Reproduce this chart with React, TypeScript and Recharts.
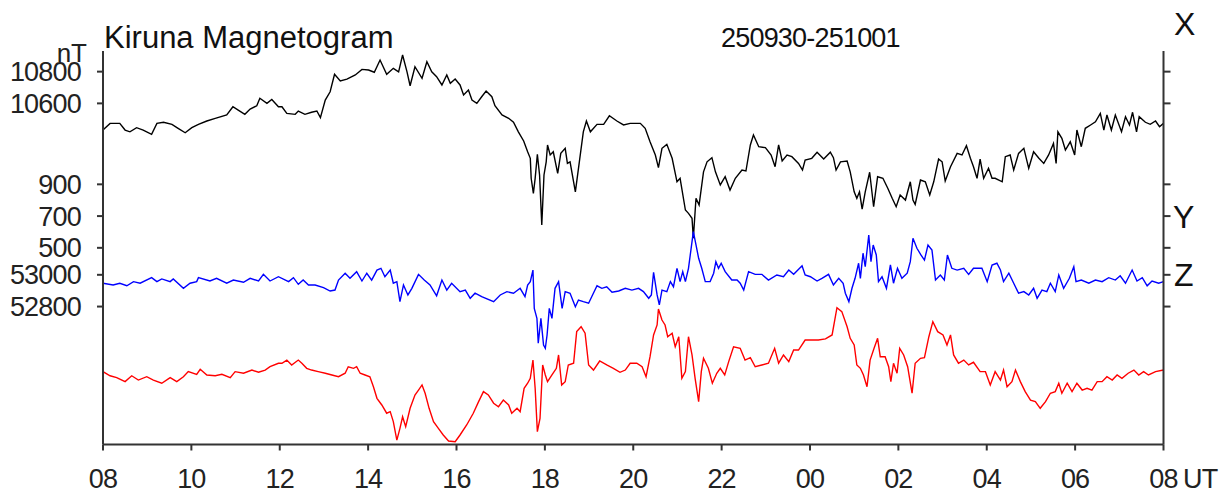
import React from 'react';
import { LineChart, Line, XAxis, YAxis } from 'recharts';

// time in hours since 08 UT, values in nT
const xTimes = [0.0,0.16,0.38,0.5,0.61,0.76,0.91,1.1,1.22,1.37,1.56,1.7,1.86,2.01,2.16,2.35,2.54,2.8,2.94,3.06,3.21,3.33,3.48,3.55,3.71,3.82,3.97,4.05,4.16,4.35,4.42,4.57,4.72,4.84,4.92,5.03,5.14,5.24,5.37,5.52,5.71,5.86,6.01,6.14,6.27,6.42,6.57,6.69,6.78,6.88,6.95,7.06,7.22,7.33,7.44,7.55,7.67,7.78,7.86,7.97,8.08,8.16,8.27,8.35,8.46,8.57,8.67,8.8,8.87,9.03,9.18,9.29,9.4,9.52,9.61,9.67,9.69,9.74,9.78,9.83,9.88,9.93,9.98,10.03,10.06,10.12,10.19,10.29,10.36,10.46,10.51,10.57,10.69,10.78,10.87,10.94,11.03,11.18,11.33,11.46,11.63,11.78,11.93,12.16,12.27,12.38,12.5,12.57,12.65,12.76,12.88,12.99,13.06,13.18,13.25,13.33,13.36,13.42,13.49,13.59,13.67,13.78,13.86,13.97,14.08,14.19,14.31,14.46,14.55,14.65,14.72,14.84,14.99,15.12,15.21,15.29,15.37,15.48,15.59,15.74,15.83,15.89,16.04,16.16,16.31,16.46,16.53,16.59,16.69,16.84,16.91,17.0,17.06,17.12,17.18,17.25,17.35,17.44,17.53,17.65,17.76,17.86,17.95,18.04,18.16,18.27,18.33,18.38,18.5,18.61,18.71,18.8,18.91,18.99,19.06,19.18,19.33,19.44,19.54,19.63,19.7,19.78,19.85,19.93,20.04,20.12,20.19,20.35,20.42,20.53,20.61,20.72,20.84,20.95,21.06,21.18,21.29,21.4,21.51,21.57,21.61,21.7,21.78,21.89,21.99,22.04,22.14,22.23,22.35,22.46,22.57,22.65,22.72,22.82,22.91,23.05,23.14,23.23,23.3,23.39,23.45,23.59,23.7,23.82,23.91,24.0];
const xValues = [10432,10474,10474,10432,10421,10447,10432,10405,10474,10481,10468,10443,10415,10447,10468,10489,10506,10527,10579,10558,10531,10564,10585,10632,10600,10625,10579,10579,10537,10531,10552,10531,10544,10552,10510,10621,10673,10783,10741,10753,10779,10814,10810,10796,10873,10783,10821,10799,10905,10799,10711,10831,10758,10862,10799,10768,10716,10779,10726,10753,10716,10653,10684,10621,10600,10642,10678,10642,10585,10527,10506,10481,10421,10363,10295,10254,10128,10033,10128,10279,10149,9834,10149,10232,10338,10275,10295,10159,10285,10317,10222,10232,10043,10232,10421,10489,10421,10468,10468,10522,10489,10464,10474,10474,10443,10358,10275,10195,10317,10342,10254,10106,10128,9928,9907,9876,9750,10002,9960,10169,10232,10258,10169,10086,10138,10054,10128,10180,10174,10338,10401,10327,10321,10275,10201,10338,10237,10275,10264,10222,10180,10243,10254,10292,10249,10292,10258,10180,10232,10237,10169,10043,10002,10043,9934,10043,10166,9949,10138,10128,10065,10002,9949,10023,9991,10106,9991,9964,10117,10106,10023,10106,10249,10232,10111,10201,10285,10275,10333,10254,10201,10128,10249,10128,10191,10128,10128,10106,10264,10275,10180,10285,10317,10191,10295,10254,10222,10275,10348,10222,10421,10380,10306,10358,10275,10432,10327,10443,10464,10484,10537,10432,10527,10432,10527,10421,10516,10464,10544,10421,10516,10481,10468,10489,10453,10474];

const yTimes = [0.0,0.23,0.38,0.54,0.69,0.84,1.1,1.22,1.33,1.52,1.59,1.82,1.97,2.12,2.16,2.42,2.57,2.8,2.95,3.18,3.33,3.52,3.63,3.78,3.97,4.2,4.31,4.42,4.53,4.65,4.8,4.99,5.14,5.25,5.33,5.48,5.59,5.74,5.86,5.97,6.08,6.2,6.29,6.38,6.5,6.57,6.65,6.72,6.8,6.9,6.99,7.14,7.27,7.4,7.55,7.67,7.78,7.89,8.08,8.2,8.31,8.42,8.57,8.84,8.99,9.14,9.29,9.44,9.55,9.61,9.67,9.73,9.76,9.82,9.85,9.91,9.97,10.01,10.05,10.1,10.16,10.23,10.31,10.39,10.46,10.57,10.69,10.76,10.87,10.99,11.06,11.18,11.29,11.4,11.52,11.67,11.82,11.97,12.12,12.23,12.35,12.41,12.46,12.54,12.59,12.65,12.76,12.84,12.91,12.99,13.06,13.12,13.18,13.25,13.31,13.36,13.42,13.48,13.55,13.63,13.74,13.82,13.87,13.93,13.99,14.08,14.23,14.35,14.42,14.5,14.61,14.76,14.91,15.06,15.25,15.4,15.52,15.63,15.82,15.89,16.01,16.16,16.27,16.42,16.53,16.65,16.75,16.8,16.88,16.95,17.02,17.1,17.14,17.2,17.25,17.33,17.38,17.43,17.5,17.55,17.63,17.73,17.82,17.89,17.98,18.08,18.2,18.27,18.33,18.42,18.51,18.59,18.67,18.76,18.84,18.95,19.04,19.11,19.21,19.33,19.48,19.59,19.7,19.89,20.01,20.12,20.23,20.31,20.38,20.5,20.61,20.72,20.84,20.95,21.06,21.14,21.25,21.36,21.44,21.55,21.63,21.74,21.87,21.97,22.02,22.14,22.31,22.46,22.61,22.76,22.91,23.02,23.14,23.29,23.4,23.52,23.63,23.74,23.89,24.0];
const yValues = [277,266,277,261,287,277,312,287,304,287,304,245,277,287,312,291,308,277,297,283,308,291,333,291,318,287,312,270,297,266,266,249,228,234,297,340,308,350,291,340,297,360,371,318,360,277,287,161,266,203,245,333,297,266,198,297,234,277,224,234,182,214,192,161,203,224,214,245,192,266,287,360,119,56,-101,56,-112,-133,-49,119,56,245,287,119,224,214,129,171,161,151,192,261,245,255,220,228,245,234,245,224,182,203,346,203,140,234,224,287,255,371,287,350,287,371,497,602,518,434,371,287,287,340,413,371,403,350,297,297,277,234,350,333,333,297,329,318,360,333,387,329,318,291,308,333,266,308,277,214,161,245,308,403,308,466,381,581,413,518,455,287,318,245,392,277,371,308,340,413,560,497,455,423,518,486,297,329,297,455,371,360,371,333,371,371,287,392,403,360,287,340,277,214,224,203,245,182,234,224,277,224,329,245,308,381,287,297,277,297,287,312,297,324,277,360,291,312,261,291,277,287];

const zTimes = [0.0,0.16,0.31,0.5,0.65,0.8,0.99,1.14,1.33,1.52,1.67,1.82,1.93,2.12,2.2,2.35,2.54,2.69,2.88,2.99,3.18,3.37,3.52,3.67,3.78,3.97,4.05,4.16,4.27,4.42,4.5,4.61,4.72,4.87,5.03,5.18,5.33,5.48,5.55,5.67,5.74,5.82,5.93,6.04,6.12,6.2,6.31,6.42,6.5,6.57,6.65,6.72,6.78,6.85,6.95,7.06,7.14,7.22,7.29,7.38,7.48,7.59,7.7,7.82,7.97,8.08,8.23,8.38,8.5,8.61,8.72,8.84,8.95,9.06,9.18,9.25,9.37,9.44,9.53,9.61,9.67,9.73,9.78,9.83,9.89,9.95,10.01,10.06,10.16,10.26,10.31,10.38,10.46,10.53,10.65,10.72,10.82,10.91,10.99,11.1,11.24,11.4,11.55,11.7,11.82,11.93,12.08,12.2,12.29,12.38,12.46,12.54,12.57,12.65,12.72,12.78,12.88,12.95,13.03,13.1,13.18,13.25,13.33,13.4,13.48,13.54,13.59,13.7,13.79,13.89,13.97,14.07,14.16,14.27,14.42,14.53,14.65,14.76,14.91,15.06,15.2,15.29,15.4,15.52,15.63,15.74,15.89,16.04,16.19,16.35,16.5,16.61,16.72,16.84,16.91,17.0,17.06,17.14,17.21,17.29,17.36,17.45,17.53,17.59,17.7,17.78,17.83,17.89,17.97,18.03,18.12,18.21,18.31,18.38,18.5,18.59,18.69,18.78,18.89,19.01,19.1,19.18,19.25,19.36,19.48,19.59,19.7,19.85,19.97,20.08,20.19,20.31,20.38,20.46,20.57,20.65,20.76,20.87,20.99,21.1,21.21,21.33,21.44,21.55,21.63,21.7,21.82,21.93,22.04,22.16,22.27,22.38,22.5,22.61,22.72,22.84,22.95,23.06,23.2,23.33,23.44,23.55,23.66,23.82,24.0];
const zValues = [52390,52364,52352,52327,52364,52337,52358,52337,52317,52352,52327,52358,52390,52373,52405,52369,52364,52373,52352,52390,52380,52400,52386,52400,52421,52443,52443,52463,52432,52463,52443,52411,52400,52390,52380,52369,52358,52380,52421,52411,52421,52380,52369,52358,52295,52222,52180,52128,52138,52075,51959,52033,52106,52043,52159,52243,52274,52306,52254,52159,52075,52033,51991,51953,51949,51991,52054,52128,52201,52264,52243,52191,52169,52211,52180,52128,52159,52138,52285,52317,52348,52463,52285,52012,52096,52432,52369,52327,52369,52411,52495,52306,52327,52432,52443,52642,52673,52632,52432,52400,52457,52432,52411,52386,52400,52443,52443,52421,52358,52484,52621,52684,52785,52715,52684,52610,52632,52547,52610,52348,52390,52610,52495,52348,52201,52390,52474,52411,52317,52380,52411,52369,52453,52547,52537,52463,52478,52421,52432,52443,52537,52443,52495,52453,52526,52526,52589,52589,52589,52596,52621,52793,52768,52673,52600,52558,52432,52411,52369,52295,52463,52537,52600,52484,52484,52421,52327,52443,52380,52537,52495,52421,52254,52443,52474,52478,52610,52705,52642,52621,52558,52621,52495,52443,52463,52432,52449,52390,52390,52306,52390,52337,52400,52295,52327,52400,52327,52264,52211,52201,52159,52201,52254,52264,52317,52254,52317,52264,52317,52274,52285,52274,52327,52327,52358,52337,52369,52348,52380,52400,52369,52390,52369,52390,52400];

const hourTicks = [0, 2, 4, 6, 8, 10, 12, 14, 16, 18, 20, 22, 24];
const hourLabels = ['08', '10', '12', '14', '16', '18', '20', '22', '00', '02', '04', '06', '08'];

// each component drawn on a shared stacked scale with its own baseline
const offsetX = 0;
const offsetY = 9190;
const offsetZ = -43480;
const yDomain = [8451, 10930];
const yTickValues = [10800, 10600, 900 + offsetY, 700 + offsetY, 500 + offsetY, 53000 + offsetZ, 52800 + offsetZ];
const yTickLabels = ['10800', '10600', '900', '700', '500', '53000', '52800'];

const build = (times: number[], values: number[], off: number) =>
  times.map((t, i) => ({ t, v: values[i] + off }));

const dataX = build(xTimes, xValues, offsetX);
const dataY = build(yTimes, yValues, offsetY);
const dataZ = build(zTimes, zValues, offsetZ);

const FONT = '"Liberation Sans", Arial, Helvetica, sans-serif';
const AXIS = '#333';
const tickStyle = { fontSize: 27, fill: '#222', fontFamily: FONT, letterSpacing: -0.8 };

export default function App() {
  return (
    <div style={{ position: 'absolute', left: 0, top: 0, width: 1219, height: 494, background: '#fff' }}>
      <LineChart
        width={1219}
        height={494}
        margin={{ top: 51, right: 35.5, bottom: 19.5, left: 0 }}
      >
        <XAxis
          xAxisId="b"
          type="number"
          dataKey="t"
          domain={[0, 24]}
          ticks={hourTicks}
          interval={0}
          allowDataOverflow
          height={30}
          stroke={AXIS}
          strokeWidth={2}
          tickSize={6}
          tickMargin={18}
          tick={tickStyle}
          tickFormatter={(v: number) => hourLabels[hourTicks.indexOf(v)] ?? ''}
        />
        <XAxis
          xAxisId="t"
          orientation="top"
          type="number"
          dataKey="t"
          domain={[0, 24]}
          ticks={hourTicks}
          interval={0}
          allowDataOverflow
          height={0}
          stroke={AXIS}
          strokeWidth={2}
          tickSize={5}
          tickFormatter={() => ''}
        />
        <YAxis
          yAxisId="l"
          type="number"
          domain={yDomain}
          ticks={yTickValues}
          interval={0}
          allowDataOverflow
          width={103}
          stroke={AXIS}
          strokeWidth={2}
          tickSize={6}
          tickMargin={16}
          tick={tickStyle}
          tickFormatter={(v: number) => yTickLabels[yTickValues.indexOf(v)] ?? ''}
        />
        <YAxis
          yAxisId="r"
          orientation="right"
          type="number"
          domain={yDomain}
          ticks={yTickValues}
          interval={0}
          allowDataOverflow
          width={20}
          stroke={AXIS}
          strokeWidth={2}
          tickSize={7}
          tickFormatter={() => ''}
        />
        <Line data={dataX} xAxisId="b" yAxisId="l" type="linear" dataKey="v" stroke="#000000" strokeWidth={1.4} dot={false} isAnimationActive={false} />
        <Line data={dataY} xAxisId="b" yAxisId="l" type="linear" dataKey="v" stroke="#0000ff" strokeWidth={1.4} dot={false} isAnimationActive={false} />
        <Line data={dataZ} xAxisId="b" yAxisId="l" type="linear" dataKey="v" stroke="#ff0000" strokeWidth={1.4} dot={false} isAnimationActive={false} />
      </LineChart>
      <svg
        width={1219}
        height={494}
        style={{ position: 'absolute', left: 0, top: 0, pointerEvents: 'none' }}
        fontFamily={FONT}
      >
        <text x={104} y={47.5} fontSize={31} fill="#111">Kiruna Magnetogram</text>
        <text x={721} y={47.3} fontSize={27} letterSpacing={-0.8} fill="#111">250930-251001</text>
        <text x={87} y={61.5} fontSize={26} textAnchor="end" fill="#222">nT</text>
        <text x={1174} y={35} fontSize={32} fill="#111">X</text>
        <text x={1173} y={228} fontSize={32} fill="#111">Y</text>
        <text x={1174} y={285.5} fontSize={32} fill="#111">Z</text>
        <text x={1183} y={488} fontSize={27} letterSpacing={-0.8} fill="#222">UT</text>
      </svg>
    </div>
  );
}
